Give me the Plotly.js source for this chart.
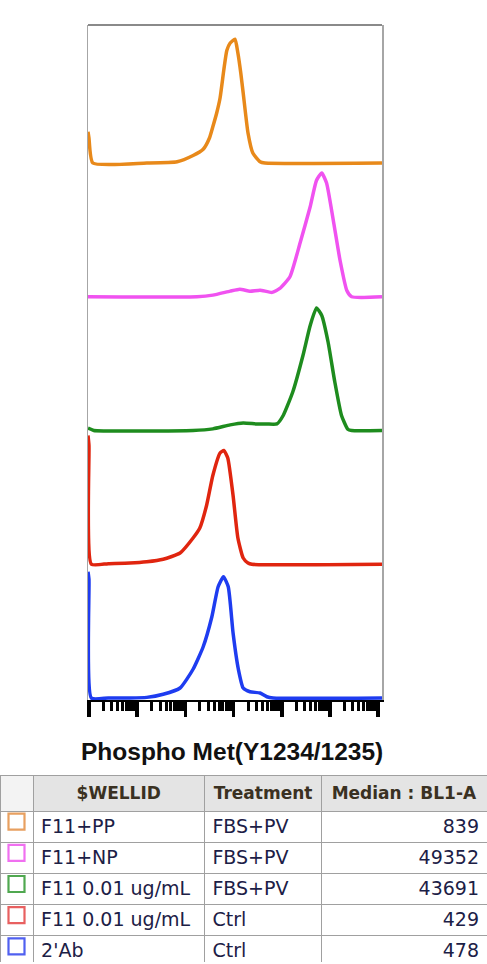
<!DOCTYPE html>
<html>
<head>
<meta charset="utf-8">
<script src="https://cdn.plot.ly/plotly-3.0.1.min.js"></script>
<style>
  html, body { margin: 0; padding: 0; background: #fff; }
  #chart { width: 487px; height: 964px; }
</style>
</head>
<body>
<div id="chart"></div>
<script>
// ---- Data (x = log10 BL1-A, y = % of mode) ----
const orangeLog = [-0.02, 0.0, 0.08, 1.2, 1.83, 2.16, 2.37, 2.5, 2.57, 2.65, 2.72, 2.8, 2.86, 2.93, 3.03, 3.09, 3.15, 3.2, 3.3, 3.4, 3.55, 3.65, 6.08];
const orangeY   = [25, 20, 0, 0, 1, 6, 11, 20, 29, 40, 52, 75, 90, 96, 99, 88, 72, 56, 24, 8, 1, 0, 0];

const pinkLog = [-0.02, 2.24, 2.57, 2.93, 3.13, 3.34, 3.55, 3.8, 3.96, 4.17, 4.38, 4.59, 4.72, 4.83, 4.93, 5.07, 5.21, 5.35, 5.45, 6.08];
const pinkY   = [0, 0, 1.3, 4.5, 6, 4.5, 5.3, 3.5, 6.7, 16, 43, 72, 93, 99, 91, 61, 29, 5, 0, 0];

const greenLog = [-0.02, 0.04, 0.1, 2.16, 2.57, 2.93, 3.2, 3.48, 3.69, 3.9, 4.03, 4.23, 4.44, 4.59, 4.72, 4.83, 4.96, 5.1, 5.24, 5.37, 5.45, 6.08];
const greenY   = [2, 1, 0, 0, 1.3, 4.5, 6, 5.3, 5.3, 5.3, 12, 31, 60, 84, 98, 92, 71, 39, 12, 1, 0, 0];

const redLog = [-0.02, 0.0, 0.05, 0.4, 0.85, 1.2, 1.54, 1.89, 2.16, 2.3, 2.44, 2.57, 2.72, 2.8, 2.88, 2.99, 3.09, 3.2, 3.3, 3.38, 6.08];
const redY   = [103, 95, 0, 0.5, 1, 2, 4, 9, 21, 29, 47, 71, 89, 91, 85, 55, 21, 5, 1, 0, 0];

const blueLog = [-0.02, 0.0, 0.05, 0.4, 0.85, 1.2, 1.54, 1.89, 2.16, 2.37, 2.55, 2.68, 2.79, 2.89, 2.99, 3.1, 3.2, 3.34, 3.55, 3.69, 3.82, 6.08];
const blueY   = [101, 95, 0, 0, 0, 0.5, 3, 8, 23, 41, 65, 89, 97, 89, 52, 23, 8, 5, 4, 1, 0, 0];

// Table content
const wellIds    = ["F11+PP", "F11+NP", "F11 0.01 ug/mL", "F11 0.01 ug/mL", "2'Ab"];
const treatments = ["FBS+PV", "FBS+PV", "FBS+PV", "Ctrl", "Ctrl"];
const medians    = ["839", "49352", "43691", "429", "478"];
const headers    = ["", "$WELLID", "Treatment", "Median : BL1-A"];
const axisTitle  = "Phospho Met(Y1234/1235)";

// ---- Styling ----
const seriesColors = ["#E8891A", "#F052F0", "#1E8C1E", "#E0250F", "#1E3CF0"];
const boxColors    = ["#E8A060", "#F070F0", "#50A850", "#E86060", "#5060F0"];
const layerStep = 107; // vertical offset between staggered histograms
const series = [
  {lx: orangeLog, y: orangeY},
  {lx: pinkLog,   y: pinkY},
  {lx: greenLog,  y: greenY},
  {lx: redLog,    y: redY},
  {lx: blueLog,   y: blueY}
];

const traces = series.map((s, i) => {
  const offset = (series.length - 1 - i) * layerStep;
  return {
    type: "scatter",
    mode: "lines",
    x: s.lx.map(v => Math.pow(10, v)),
    y: s.y.map(v => v + offset),
    line: {color: seriesColors[i], width: 3.5, shape: "spline", smoothing: 0.5},
    hoverinfo: "skip",
    xaxis: "x", yaxis: "y"
  };
});

const W = 487, H = 964, mT = 25, mB = 2;
const paperH = H - mT - mB;
const py = px => (H - mB - px) / paperH;

const cellColor = "#1c2046";
traces.push({
  type: "table",
  domain: {x: [0, 1], y: [0, py(775)]},
  columnwidth: [33, 171, 117, 165],
  header: {
    values: headers.map(h => h ? "<b>" + h + "</b>" : ""),
    align: ["center", "center", "center", "center"],
    height: 31,
    fill: {color: ["#f3f3f3", "#e4e4e4", "#e4e4e4", "#e4e4e4"]},
    line: {color: "#a0a0a0", width: 1},
    font: {family: "DejaVu Sans", size: 17, color: "#3a3122"}
  },
  cells: {
    values: [wellIds.map(() => ""), wellIds, treatments, medians],
    align: ["center", "left", "left", "right"],
    height: 31,
    fill: {color: ["rgba(0,0,0,0)", "#ffffff", "#ffffff", "#ffffff"]},
    line: {color: "#a0a0a0", width: 1},
    font: {family: "DejaVu Sans", size: 19, color: cellColor}
  }
});

// Legend swatches in the first table column (one per row)
traces.push({
  type: "scatter",
  mode: "markers",
  x: wellIds.map(() => 0.5),
  y: wellIds.map((_, i) => i + 0.5),
  marker: {symbol: "square-open", size: 16, color: boxColors, line: {width: 2.2, color: boxColors}},
  hoverinfo: "skip",
  xaxis: "x3", yaxis: "y3"
});

const layout = {
  width: W, height: H,
  margin: {l: 0, r: 0, t: mT, b: mB},
  paper_bgcolor: "#ffffff",
  plot_bgcolor: "rgba(0,0,0,0)",
  showlegend: false,
  xaxis: {
    domain: [88 / W, 382 / W],
    type: "log",
    range: [-0.02, 6.08],
    showgrid: false, zeroline: false,
    showline: true, linecolor: "#000000", linewidth: 2,
    ticks: "outside", ticklen: 15, tickwidth: 3.5, tickcolor: "#000000",
    dtick: 1,
    showticklabels: false,
    minor: {ticks: "outside", ticklen: 9, tickwidth: 3, tickcolor: "#000000", dtick: "D1", showgrid: false}
  },
  yaxis: {
    domain: [py(700), 1],
    range: [-1.6, 538.4],
    showgrid: false, zeroline: false,
    showline: true, mirror: true, linecolor: "#a6a6a6", linewidth: 1.5,
    ticks: "", showticklabels: false
  },
  xaxis3: {
    domain: [0, 33 / W], range: [0, 1],
    visible: false, fixedrange: true
  },
  yaxis3: {
    domain: [0, py(806)], range: [5, 0],
    visible: false, fixedrange: true, anchor: "x3"
  },
  shapes: [{
    type: "line", xref: "x domain", yref: "y domain",
    x0: 0, x1: 1, y0: 1, y1: 1,
    line: {color: "#8a8a8a", width: 2}
  }],
  annotations: [{
    text: "<b>" + axisTitle + "</b>",
    xref: "x domain", x: 0.49, xanchor: "center",
    yref: "paper", y: py(751), yanchor: "middle",
    showarrow: false,
    font: {family: "Liberation Sans, Arial, sans-serif", size: 24.5, color: "#111111"}
  }]
};
layout.xaxis3.anchor = "y3";

Plotly.newPlot("chart", traces, layout, {staticPlot: true, displayModeBar: false});
</script>
</body>
</html>
